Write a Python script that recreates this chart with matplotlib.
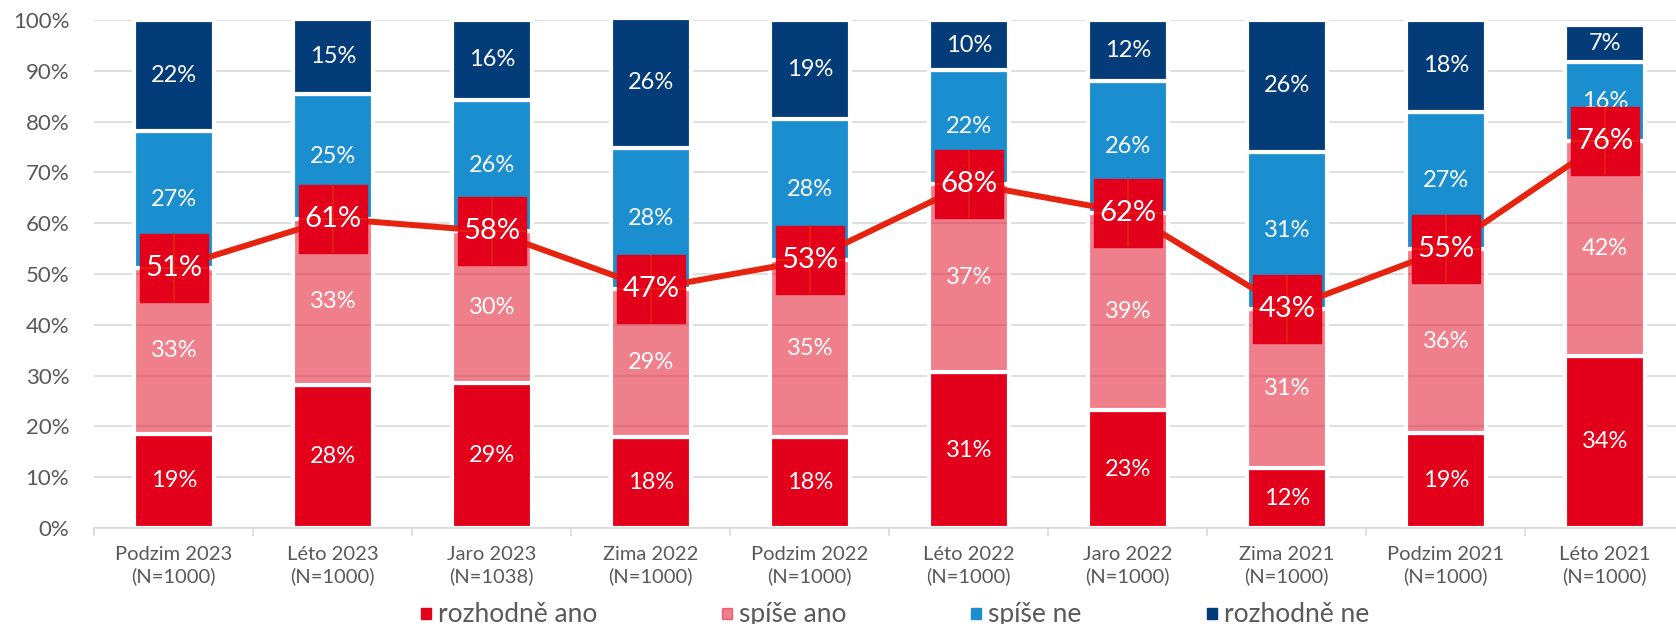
import matplotlib.pyplot as plt
import numpy as np
from matplotlib.patches import Rectangle

plt.rcParams['font.family'] = ['Lato', 'DejaVu Sans']

obdobi = ['Podzim 2023', 'Léto 2023', 'Jaro 2023', 'Zima 2022', 'Podzim 2022',
          'Léto 2022', 'Jaro 2022', 'Zima 2021', 'Podzim 2021', 'Léto 2021']
vzorek = [1000, 1000, 1038, 1000, 1000, 1000, 1000, 1000, 1000, 1000]

# procenta
rozhodne_ano = [18.6, 28.2, 28.6, 17.9, 17.9, 30.7, 23.2, 11.8, 18.7, 33.9]
spise_ano = [32.6, 32.7, 29.8, 29.2, 34.8, 37.1, 38.9, 31.3, 36.2, 42.3]
spise_ne = [27.0, 24.6, 25.9, 27.7, 27.9, 22.3, 25.9, 31.0, 27.0, 15.6]
rozhodne_ne = [21.8, 14.7, 15.7, 25.6, 19.4, 9.9, 12.0, 25.9, 18.1, 7.2]
legenda = ['rozhodně ano', 'spíše ano', 'spíše ne', 'rozhodně ne']

RED = '#e3001b'
PINK = (227/255, 0, 27/255, 0.5)
BLUE = '#1a8ecf'
NAVY = '#033c78'
LINE = '#e5230f'
GREY = '#595959'
GRID = '#d9d9d9'

W, H = 1676, 624


def pct(v):
    return '%d%%' % int(v + 0.5)


fig = plt.figure(figsize=(W/100, H/100), dpi=100)
ax = fig.add_axes([94.3/W, 96/H, 1590/W, 508/H])

x = np.arange(len(obdobi))
bw = 0.5
serie = [(rozhodne_ano, RED), (spise_ano, PINK), (spise_ne, BLUE), (rozhodne_ne, NAVY)]
bottom = np.zeros(len(x))
for vals, col in serie:
    vals = np.array(vals) / 100
    ax.bar(x, vals, bw, bottom=bottom, color=col, edgecolor='white',
           linewidth=3, zorder=2, clip_on=False)
    for xi, b, v in zip(x, bottom, vals):
        ax.text(xi, b + v / 2, pct(v * 100), ha='center', va='center',
                color='white', fontsize=17, zorder=3)
    bottom += vals

ano = (np.array(rozhodne_ano) + np.array(spise_ano)) / 100
ax.plot(x, ano, color=LINE, lw=4.3, zorder=4, solid_capstyle='round')
ax.plot(x, ano, 's', ms=49, color=RED, mec=RED, zorder=5)
ax.plot(x, ano, '+', ms=49, mew=1.2, color=LINE, zorder=6)
for xi, v in zip(x, ano):
    ax.text(xi, v, pct(v * 100), ha='center', va='center', color='white',
            fontsize=21, zorder=7)

ax.set_xlim(-0.5, len(x) - 0.5)
ax.set_ylim(0, 1)
ax.set_yticks(np.arange(0, 1.01, 0.1))
ax.set_yticklabels(['%d%%' % v for v in range(0, 101, 10)])
ax.set_xticks(x)
ax.set_xticklabels(['%s\n(N=%d)' % (o, n) for o, n in zip(obdobi, vzorek)],
                   linespacing=1.3)
ax.set_xticks(np.arange(-0.5, len(x)), minor=True)
ax.tick_params(axis='y', length=0, pad=18, labelsize=16, labelcolor=GREY)
ax.tick_params(axis='x', which='major', length=0, pad=13, labelsize=14.5, labelcolor=GREY)
ax.tick_params(axis='x', which='minor', length=6, width=1.2, color=GRID)
ax.grid(axis='y', color=GRID, lw=1.2, zorder=0)
ax.set_axisbelow(True)
for s in ['top', 'right', 'left']:
    ax.spines[s].set_visible(False)
ax.spines['bottom'].set_color(GRID)
ax.spines['bottom'].set_linewidth(1.2)

# legenda dole
leg_x = [421, 722, 971, 1207]
for lx, txt, (_, col) in zip(leg_x, legenda, serie):
    fig.patches.append(Rectangle((lx/W, 5/H), 10/W, 11/H, color=col,
                                 transform=fig.transFigure, figure=fig))
    fig.text((lx + 17)/W, 2/H, txt, fontsize=19, color=GREY, va='baseline')

fig.savefig('out.png', dpi=100)
